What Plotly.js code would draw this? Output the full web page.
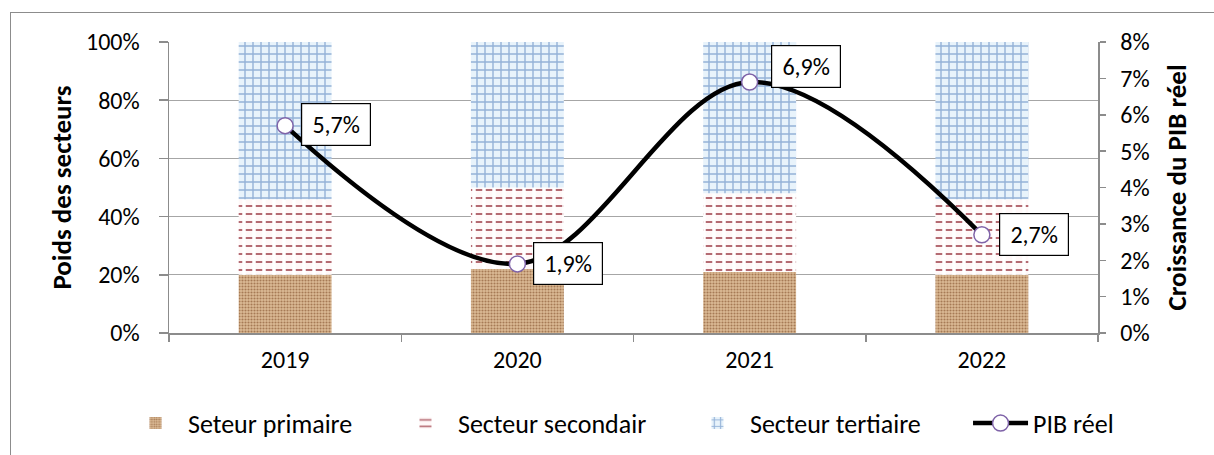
<!DOCTYPE html>
<html>
<head>
<meta charset="utf-8">
<script src="https://cdn.plot.ly/plotly-3.0.1.min.js"></script>
<style>
  html, body { margin: 0; padding: 0; background: #fff; overflow: hidden; }
  #frame { position: absolute; left: 10px; top: 12px; width: 1400px; height: 700px;
           border-left: 1.5px solid #8c8c8c; border-top: 1.5px solid #8c8c8c; }
  #chart { position: absolute; left: 0; top: 0; width: 1214px; height: 455px; }
</style>
</head>
<body>
<div id="frame"></div>
<div id="chart"></div>
<script>
// Sector shares of GDP (left axis) and real GDP growth (right axis)
const years = ['2019', '2020', '2021', '2022'];
const primaire = [0.20, 0.22, 0.21, 0.20];
const secondaire = [0.26, 0.28, 0.27, 0.26];
const tertiaire = [0.54, 0.50, 0.52, 0.54];
const pibReel = [0.057, 0.019, 0.069, 0.027];
const seriesNames = ['Seteur primaire', 'Secteur secondair', 'Secteur tertiaire', 'PIB réel'];
const leftTitle = 'Poids des secteurs';
const rightTitle = 'Croissance du PIB réel';

const FONT = 'Carlito, Calibri, Lato, sans-serif';
const FS = 24;
const GRID = '#a6a6a6';
const AXIS = '#8c8c8c';

// stacked bases computed from the shares
const baseSec = primaire.map(v => v);
const baseTer = primaire.map((v, i) => v + secondaire[i]);

const barWidth = 0.4;

const traces = [
  {
    type: 'bar', name: seriesNames[0], legend: 'legend', x: years, y: primaire, width: barWidth,
    marker: { color: '#c9a27c', line: { width: 0 },
      pattern: { shape: '.', fillmode: 'replace', bgcolor: '#dcbb95', fgcolor: '#a67a55', size: 3, solidity: 0.4 } },
    hoverinfo: 'skip'
  },
  {
    type: 'bar', name: seriesNames[1], legend: 'legend2', x: years, y: secondaire, base: baseSec, width: barWidth,
    marker: { color: '#ffffff', line: { width: 0 },
      pattern: { shape: '-', fillmode: 'replace', bgcolor: '#fff8f8', fgcolor: '#b46a72', size: 8, solidity: 0.25 } },
    hoverinfo: 'skip'
  },
  {
    // breaks the horizontal rules of the secondary sector into dashes
    type: 'bar', name: seriesNames[1], x: years, y: secondaire, base: baseSec, width: barWidth,
    showlegend: false,
    marker: { color: 'rgba(0,0,0,0)', line: { width: 0 },
      pattern: { shape: '|', fillmode: 'replace', bgcolor: 'rgba(0,0,0,0)', fgcolor: '#ffffff', size: 10, solidity: 0.35 } },
    hoverinfo: 'skip'
  },
  {
    type: 'bar', name: seriesNames[2], legend: 'legend3', x: years, y: tertiaire, base: baseTer, width: barWidth,
    marker: { color: '#dbe8f5', line: { width: 0 },
      pattern: { shape: '+', fillmode: 'replace', bgcolor: '#e8f3fb', fgcolor: '#94b2d8', size: 8, solidity: 0.32 } },
    hoverinfo: 'skip'
  },
  {
    type: 'scatter', mode: 'lines+markers', name: seriesNames[3], legend: 'legend4',
    x: years, y: pibReel, yaxis: 'y2',
    line: { color: '#000000', width: 4.5, shape: 'spline', smoothing: 1 },
    marker: { symbol: 'circle', size: 16, color: '#ffffff', line: { color: '#7f63a8', width: 1.5 } },
    hoverinfo: 'skip'
  }
];

// value labels: offsets in pixels from each point
const labelShiftX = [51, 51, 56, 52];
const labelShiftY = [1, 0, 16, 0];
const fmtPct = v => (v * 100).toFixed(1).replace('.', ',') + '%';

// annotation x uses the category serial number (0..n-1)
const annotations = pibReel.map((v, i) => ({
  x: i, y: v, xref: 'x', yref: 'y2',
  text: fmtPct(v), showarrow: false,
  xshift: labelShiftX[i], yshift: labelShiftY[i],
  bgcolor: '#ffffff', bordercolor: '#000000', borderwidth: 1.2, borderpad: 3,
  width: 62, height: 35,
  font: { family: FONT, size: FS, color: '#000000' }
}));

// one legend per series, laid out along the bottom
const legendX = [-0.0495, 0.2411, 0.5554, 0.8601];
const legendBox = x => ({
  orientation: 'h', x: x, xanchor: 'left', y: -0.31, yanchor: 'middle',
  itemwidth: 55, font: { family: FONT, size: 26 }, bgcolor: 'rgba(0,0,0,0)'
});

const layout = {
  width: 1214, height: 455,
  margin: { l: 169, r: 116, t: 42, b: 122, autoexpand: false },
  paper_bgcolor: 'rgba(0,0,0,0)', plot_bgcolor: 'rgba(0,0,0,0)',
  separators: ', ',
  barmode: 'overlay',
  font: { family: FONT, size: FS, color: '#000000' },
  xaxis: {
    type: 'category', range: [-0.5, years.length - 0.5], autorange: false,
    showgrid: false, showline: true, linecolor: AXIS, linewidth: 1.5,
    ticks: 'outside', tickson: 'boundaries', ticklen: 7, tickcolor: AXIS, tickwidth: 1.5,
    ticklabelstandoff: 5,
    tickangle: 0, tickfont: { family: FONT, size: FS }, zeroline: false
  },
  yaxis: {
    range: [0, 1], autorange: false, dtick: 0.2, tickformat: '.0%',
    showgrid: true, gridcolor: GRID, gridwidth: 1.3,
    showline: true, linecolor: AXIS, linewidth: 1.5, zeroline: false,
    ticks: 'outside', ticklen: 9, tickcolor: AXIS, tickwidth: 1.5,
    ticklabelstandoff: 14,
    tickfont: { family: FONT, size: FS },
    title: { text: leftTitle, font: { family: FONT, size: 27, weight: 'bold' }, standoff: 6 }
  },
  yaxis2: {
    range: [0, 0.08], autorange: false, dtick: 0.01, tickformat: '.0%',
    overlaying: 'y', side: 'right', showgrid: false, zeroline: false,
    showline: true, linecolor: AXIS, linewidth: 1.5,
    ticks: 'outside', ticklen: 6, tickcolor: AXIS, tickwidth: 1.5,
    ticklabelstandoff: 10,
    tickfont: { family: FONT, size: FS },
    title: { text: rightTitle, font: { family: FONT, size: 27, weight: 'bold' }, standoff: 18 }
  },
  legend: legendBox(legendX[0]),
  legend2: legendBox(legendX[1]),
  legend3: legendBox(legendX[2]),
  legend4: legendBox(legendX[3]),
  annotations: annotations,
  showlegend: true
};

Plotly.newPlot('chart', traces, layout, { staticPlot: true, displayModeBar: false });
</script>
</body>
</html>
